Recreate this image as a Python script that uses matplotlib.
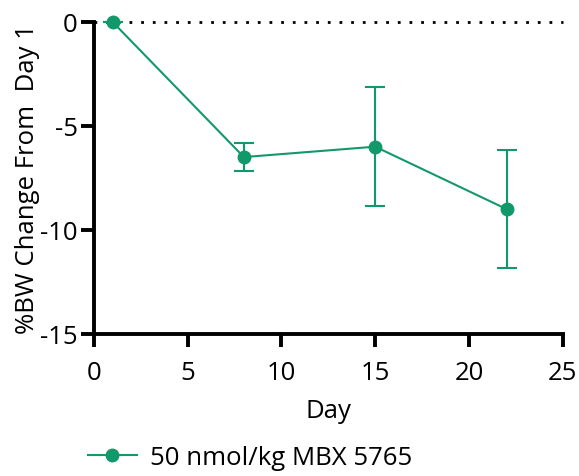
import matplotlib
matplotlib.use('Agg')
import matplotlib.pyplot as plt
from matplotlib.lines import Line2D

plt.rcParams['font.family'] = ['Open Sans', 'DejaVu Sans']
plt.rcParams['axes.unicode_minus'] = False

days = [1, 8, 15, 22]
bw_change = [0.0, -6.5, -6.0, -9.0]
sem = [0.0, 0.68, 2.85, 2.82]
series_label = '50 nmol/kg MBX 5765'
green = '#12996A'
fs = 18.5

fig = plt.figure(figsize=(5.79, 4.77), dpi=100)
ax = fig.add_axes([0.162, 0.298, 0.81, 0.654])

# dotted baseline at zero
ax.plot([0, 25], [0, 0], linestyle=(0, (1, 3.2)), color='black', lw=2, clip_on=False, zorder=1)

ax.errorbar(days, bw_change, yerr=sem, color=green, lw=1.5, marker='o', markersize=9,
            capsize=7, capthick=1.5, elinewidth=1.5, clip_on=False, zorder=3)

ax.set_xlim(0, 25)
ax.set_ylim(-15, 0)
ax.set_xticks([0, 5, 10, 15, 20, 25])
ax.set_yticks([0, -5, -10, -15])
ax.set_xlabel('Day', fontsize=fs, labelpad=10)
ax.set_ylabel('%BW Change From  Day 1', fontsize=fs, labelpad=0)

for side in ['top', 'right']:
    ax.spines[side].set_visible(False)
for side in ['left', 'bottom']:
    ax.spines[side].set_linewidth(2.8)
ax.tick_params(axis='both', width=2.8, length=9.5, labelsize=fs, pad=2)
ax.tick_params(axis='x', pad=9)

handle = Line2D([], [], color=green, lw=1.5, marker='o', markersize=9)
fig.legend([handle], [series_label], loc='lower left', bbox_to_anchor=(0.112, -0.036),
           frameon=False, fontsize=fs, handlelength=1.9, handletextpad=0.5)

fig.savefig('out.png', dpi=100)
